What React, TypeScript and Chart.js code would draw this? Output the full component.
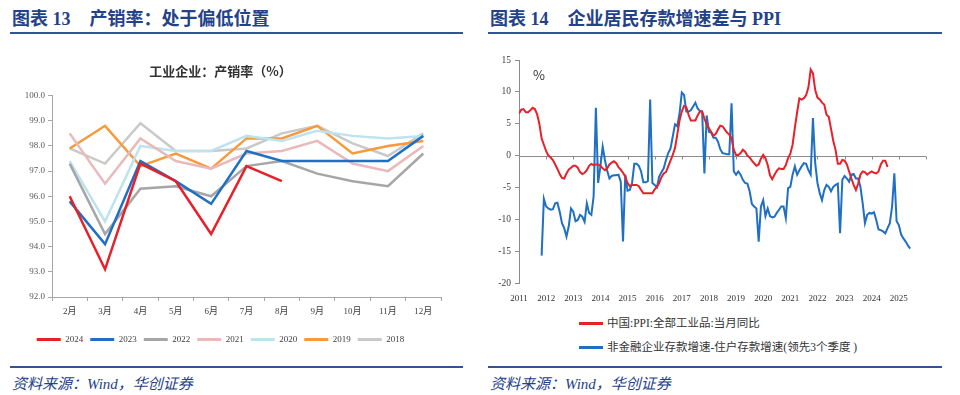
import React, { useEffect, useRef } from 'react';
import { Chart, registerables } from 'chart.js';

Chart.register(...registerables);

const SERIF = '"Liberation Serif", "Times New Roman", "Noto Sans CJK SC", serif';
const CJK = '"Noto Sans CJK SC", sans-serif';
const NAVY = '#24428a';
const RULE = '#2f5597';

// ---------- Left chart data: 工业企业产销率 ----------
const monthLabels = ['2月', '3月', '4月', '5月', '6月', '7月', '8月', '9月', '10月', '11月', '12月'];
const seriesYears = ['2024', '2023', '2022', '2021', '2020', '2019', '2018'];
const y2024 = [96.0, 93.1, 97.3, 96.6, 94.5, 97.2, 96.6];
const y2023 = [95.8, 94.1, 97.4, 96.6, 95.7, 97.8, 97.4, 97.4, 97.4, 97.4, 98.4];
const y2022 = [97.3, 94.5, 96.3, 96.4, 96.0, 97.2, 97.4, 96.9, 96.6, 96.4, 97.7];
const y2021 = [98.5, 96.5, 98.3, 97.4, 97.1, 97.7, 97.8, 98.2, 97.3, 97.0, 98.0];
const y2020 = [97.4, 95.0, 98.0, 97.8, 97.8, 98.4, 98.2, 98.6, 98.4, 98.3, 98.4];
const y2019 = [97.9, 98.8, 97.2, 97.7, 97.1, 98.3, 98.3, 98.8, 97.7, 98.0, 98.2];
const y2018 = [97.9, 97.3, 98.9, 97.8, 97.8, 97.9, 98.5, 98.8, 98.1, 97.6, 98.5];
const seriesValues = [y2024, y2023, y2022, y2021, y2020, y2019, y2018];
const seriesColors = ['#e8202a', '#1f6fc5', '#a6a6a6', '#eab9b9', '#bfe3ee', '#f79a3c', '#c9c9c9'];

// ---------- Right chart data: 存款增速差与PPI ----------
const ppiLabel = '中国:PPI:全部工业品:当月同比';
const ppiStartYear = 2011;
const ppiStartMonth = 1;
const ppiValues = [
  6.6, 7.2, 7.3, 6.8, 6.8, 7.1, 7.5, 7.3, 6.5, 5.0, 2.7, 1.7,
  0.7, 0.0, -0.3, -0.7, -1.4, -2.1, -2.9, -3.5, -3.6, -2.8, -2.2, -1.9,
  -1.6, -1.6, -1.9, -2.6, -2.9, -2.7, -2.3, -1.6, -1.3, -1.5, -1.4, -1.4,
  -1.6, -2.0, -2.3, -2.0, -1.4, -1.1, -0.9, -1.2, -1.8, -2.2, -2.7, -3.3,
  -4.3, -4.8, -4.6, -4.6, -4.6, -4.8, -5.4, -5.9, -5.9, -5.9, -5.9, -5.9,
  -5.3, -4.9, -4.3, -3.4, -2.8, -2.6, -1.7, -0.8, 0.1, 1.2, 3.3, 5.5,
  6.9, 7.8, 7.6, 6.4, 5.5, 5.5, 5.5, 6.3, 6.9, 6.9, 5.8, 4.9,
  4.3, 3.7, 3.1, 3.4, 4.1, 4.7, 4.6, 4.1, 3.6, 3.3, 2.7, 0.9,
  0.1, 0.1, 0.4, 0.9, 0.6, 0.0, -0.3, -0.8, -1.2, -1.6, -1.4, -0.5,
  0.1, -0.4, -1.5, -3.1, -3.7, -3.0, -2.4, -2.0, -2.1, -2.1, -1.5, -0.4,
  0.3, 1.7, 4.4, 6.8, 9.0, 8.8, 9.0, 9.5, 10.7, 13.5, 12.9, 10.3,
  9.1, 8.8, 8.3, 8.0, 6.4, 6.1, 4.2, 2.3, 0.9, -1.3, -1.3, -0.7,
  -0.8, -1.4, -2.5, -3.6, -4.6, -5.4, -4.4, -3.0, -2.5, -2.6, -3.0, -2.7,
  -2.5, -2.7, -2.8, -2.5, -1.4, -0.8, -0.8, -1.8,
];
const gapLabel = '非金融企业存款增速-住户存款增速(领先3个季度 )';
const gapStartYear = 2011;
const gapStartMonth = 11;
const gapValues = [
  -15.7, -6.8,
  -8.0, -8.3, -8.5, -8.4, -7.5, -7.4, -8.8, -10.6, -11.4, -12.7, -11.1, -8.3,
  -8.8, -10.3, -10.1, -9.3, -9.6, -10.4, -7.5, -9.0, -9.3, -6.4, 7.5, -4.3,
  -1.7, 1.4, -0.7, -2.4, -3.6, -3.2, -3.1, -3.1, -3.0, -4.1, -13.5, -3.0,
  -5.5, -5.4, -4.3, -1.3, -1.3, -1.6, -2.5, -4.2, -4.2, -4.0, 8.8, -4.3,
  -4.6, -5.0, -3.3, -2.6, -2.0, -0.7, 0.4, 1.1, 3.0, 4.9, 4.6, 6.6,
  9.9, 9.5, 6.9, 6.9, 7.1, 7.7, 8.3, 7.4, 7.0, 6.9, -2.8, 6.3,
  3.7, 3.6, 2.8, 2.8, 2.2, 1.0, 0.4, 0.3, 0.2, 0.2, 8.2, -2.5,
  -3.0, -2.5, -3.0, -3.8, -4.3, -4.4, -5.6, -7.6, -8.0, -8.3, -13.5, -8.0,
  -7.0, -9.5, -8.3, -9.5, -9.7, -9.6, -9.0, -8.5, -8.0, -8.0, -9.8, -5.1,
  -4.9, -3.0, -1.7, -3.0, -2.3, -1.7, -1.2, -1.3, -2.3, -3.0, 5.9, -1.2,
  -4.3, -5.9, -7.0, -5.4, -4.6, -4.9, -5.6, -4.9, -4.6, -4.4, -12.2, -3.8,
  -3.2, -3.6, -4.1, -3.0, -2.9, -3.6, -3.6, -4.9, -7.5, -10.6, -9.3, -9.0,
  -9.1, -8.9, -10.1, -11.6, -11.7, -11.9, -12.2, -11.4, -10.6, -8.0, -2.8, -10.3,
  -10.9, -12.4, -13.0, -13.5, -14.1, -14.6,
];
const xYearMin = 2011;
const xYearMax = 2026;
const yRightMin = -20;
const yRightMax = 15;

function toPoints(startYear: number, startMonth: number, values: number[]) {
  return values.map((v, i) => ({ x: startYear + (startMonth - 1 + i) / 12, y: v }));
}

const zeroAxisPlugin = {
  id: 'zeroAxis',
  beforeDatasetsDraw(chart: any) {
    const { ctx, scales } = chart;
    const x = scales.x;
    const y = scales.y;
    const y0 = Math.round(y.getPixelForValue(0)) + 0.5;
    ctx.save();
    ctx.strokeStyle = '#8c8c8c';
    ctx.lineWidth = 1;
    ctx.beginPath();
    ctx.moveTo(x.left, y0);
    ctx.lineTo(x.right, y0);
    x.ticks.forEach((t: any) => {
      const px = Math.round(x.getPixelForValue(t.value)) + 0.5;
      ctx.moveTo(px, y0);
      ctx.lineTo(px, y0 + 3);
    });
    ctx.stroke();
    ctx.restore();
  },
};

function LeftChart() {
  const ref = useRef<HTMLCanvasElement>(null);
  useEffect(() => {
    const chart = new Chart(ref.current as HTMLCanvasElement, {
      type: 'line',
      data: {
        labels: monthLabels,
        datasets: seriesYears.map((name, i) => ({
          label: name,
          data: seriesValues[i],
          borderColor: seriesColors[i],
          backgroundColor: seriesColors[i],
          borderWidth: 2.5,
          pointRadius: 0,
          tension: 0,
        })),
      },
      options: {
        animation: false,
        responsive: false,
        maintainAspectRatio: false,
        layout: { padding: { left: 0, right: 29, top: 0, bottom: 6 } },
        plugins: {
          tooltip: { enabled: false },
          title: {
            display: true,
            text: '工业企业：产销率（%）',
            color: '#333333',
            font: { family: CJK, size: 13, weight: 'bold' },
            padding: { top: 23, bottom: 17 },
          },
          legend: {
            position: 'bottom',
            labels: {
              boxWidth: 24,
              boxHeight: 3,
              padding: 7,
              color: '#404040',
              font: { family: SERIF, size: 9 },
              generateLabels: (c: any) =>
                Chart.defaults.plugins.legend.labels.generateLabels(c).map((it: any) => ({
                  ...it,
                  fillStyle: it.strokeStyle,
                  lineWidth: 0,
                })),
            },
          },
        },
        scales: {
          x: {
            offset: true,
            grid: { offset: true, drawOnChartArea: false, tickLength: 4, color: '#a6a6a6' },
            border: { color: '#a6a6a6' },
            ticks: { font: { family: SERIF, size: 9 }, color: '#404040', padding: 5, maxRotation: 0 },
            afterFit: (s: any) => { s.height = 31; },
          },
          y: {
            min: 92,
            max: 100,
            ticks: {
              stepSize: 1,
              font: { family: SERIF, size: 9 },
              color: '#595959',
              padding: 3,
              callback: (v: any) => Number(v).toFixed(1),
            },
            grid: { drawOnChartArea: false, tickLength: 4, color: '#a6a6a6' },
            border: { color: '#a6a6a6' },
            afterFit: (s: any) => { s.width = 52; },
          },
        },
      } as any,
    });
    return () => chart.destroy();
  }, []);
  return (
    <canvas
      ref={ref}
      width={470}
      height={320}
      style={{ position: 'absolute', left: 0, top: 40, width: 470, height: 320 }}
    />
  );
}

function RightChart() {
  const ref = useRef<HTMLCanvasElement>(null);
  useEffect(() => {
    const chart = new Chart(ref.current as HTMLCanvasElement, {
      type: 'line',
      data: {
        datasets: [
          {
            label: ppiLabel,
            data: toPoints(ppiStartYear, ppiStartMonth, ppiValues),
            borderColor: '#e8202a',
            backgroundColor: '#e8202a',
            borderWidth: 2,
            pointRadius: 0,
            tension: 0,
          },
          {
            label: gapLabel,
            data: toPoints(gapStartYear, gapStartMonth, gapValues),
            borderColor: '#1f6fc5',
            backgroundColor: '#1f6fc5',
            borderWidth: 2,
            pointRadius: 0,
            tension: 0,
          },
        ],
      },
      options: {
        animation: false,
        responsive: false,
        maintainAspectRatio: false,
        layout: { padding: { left: 0, right: 24, top: 20, bottom: 0 } },
        plugins: {
          tooltip: { enabled: false },
          legend: { display: false },
          title: { display: false },
        },
        scales: {
          x: {
            type: 'linear',
            min: xYearMin,
            max: xYearMax,
            grid: { display: false },
            border: { display: false },
            ticks: {
              stepSize: 1,
              autoSkip: false,
              maxRotation: 0,
              padding: 2,
              font: { family: SERIF, size: 9 },
              color: '#333333',
              callback: (v: any) => (Number(v) >= xYearMax ? '' : String(v)),
            },
            afterFit: (s: any) => { s.height = 27; },
          },
          y: {
            min: yRightMin,
            max: yRightMax,
            ticks: {
              stepSize: 5,
              font: { family: SERIF, size: 9.5 },
              color: '#404040',
              padding: 4,
            },
            grid: { drawOnChartArea: false, tickLength: 4, color: '#8c8c8c' },
            border: { color: '#8c8c8c' },
            afterFit: (s: any) => { s.width = 39; },
          },
        },
      } as any,
      plugins: [zeroAxisPlugin],
    });
    return () => chart.destroy();
  }, []);
  return (
    <canvas
      ref={ref}
      width={470}
      height={270}
      style={{ position: 'absolute', left: 480, top: 40, width: 470, height: 270 }}
    />
  );
}

const titleStyle: React.CSSProperties = {
  position: 'absolute',
  top: 9,
  fontFamily: SERIF,
  fontWeight: 'bold',
  fontSize: 18,
  lineHeight: '20px',
  color: NAVY,
  whiteSpace: 'nowrap',
};
const sourceStyle: React.CSSProperties = {
  position: 'absolute',
  top: 375,
  fontFamily: SERIF,
  fontStyle: 'italic',
  fontSize: 15,
  lineHeight: '18px',
  color: NAVY,
  whiteSpace: 'nowrap',
};
const rule = (left: number, top: number, width: number): React.CSSProperties => ({
  position: 'absolute',
  left,
  top,
  width,
  height: 2,
  background: RULE,
});
const legendRow: React.CSSProperties = {
  position: 'absolute',
  left: 579,
  display: 'flex',
  alignItems: 'center',
  fontFamily: SERIF,
  fontSize: 11.5,
  lineHeight: '14px',
  color: '#333333',
  whiteSpace: 'nowrap',
};

export default function App() {
  return (
    <div
      style={{
        position: 'fixed',
        left: 0,
        top: 0,
        width: 960,
        height: 395,
        background: '#ffffff',
        overflow: 'hidden',
      }}
    >
      <div style={{ ...titleStyle, left: 12 }}>
        <span>图表 13</span>
        <span style={{ marginLeft: 19 }}>产销率：处于偏低位置</span>
      </div>
      <div style={rule(10, 32, 453)} />
      <div style={{ ...titleStyle, left: 490 }}>
        <span>图表 14</span>
        <span style={{ marginLeft: 19 }}>企业居民存款增速差与 PPI</span>
      </div>
      <div style={rule(488, 32, 454)} />

      <LeftChart />
      <RightChart />

      <div
        style={{
          position: 'absolute',
          left: 533,
          top: 67,
          fontFamily: CJK,
          fontSize: 13,
          lineHeight: '16px',
          color: '#333333',
        }}
      >
        %
      </div>

      <div style={{ ...legendRow, top: 316 }}>
        <div style={{ width: 24, height: 3, background: '#e8202a', marginRight: 4 }} />
        <span>{ppiLabel}</span>
      </div>
      <div style={{ ...legendRow, top: 340 }}>
        <div style={{ width: 24, height: 3, background: '#1f6fc5', marginRight: 4 }} />
        <span>{gapLabel}</span>
      </div>

      <div style={rule(10, 366, 453)} />
      <div style={rule(488, 366, 454)} />
      <div style={{ ...sourceStyle, left: 12 }}>资料来源：Wind，华创证券</div>
      <div style={{ ...sourceStyle, left: 490 }}>资料来源：Wind，华创证券</div>
    </div>
  );
}
